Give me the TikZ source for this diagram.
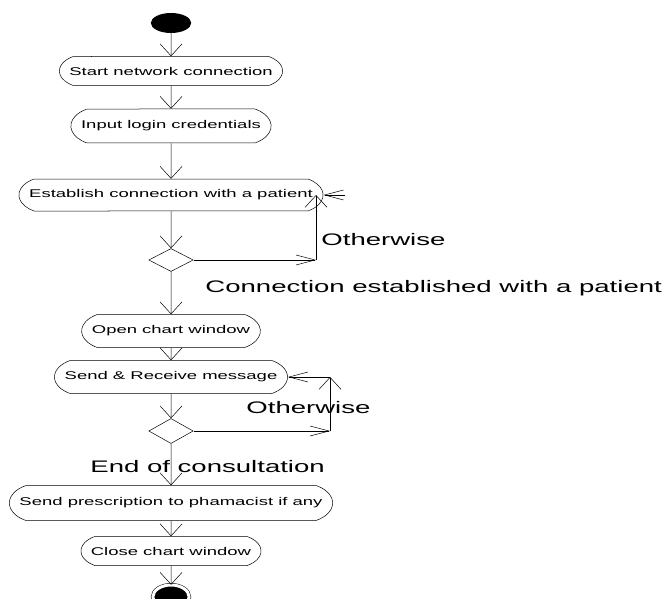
\documentclass[tikz,border=0pt]{standalone}
\usepackage{fontspec}
\setmainfont{Liberation Sans}
\usetikzlibrary{positioning, arrows.meta, shapes.geometric, shapes.misc}

\tikzset{
	activity/.style={draw, rounded rectangle, rounded rectangle arc length=120,
		minimum height=32pt, inner xsep=5.5pt, inner ysep=0pt,
		font=\fontsize{11.2}{13}\selectfont},
	decision/.style={draw, diamond, minimum width=27pt, minimum height=23pt, inner sep=0pt},
	guard/.style={anchor=base west, inner sep=0pt, font=\fontsize{16.7}{19}\selectfont},
	flow/.style={-{Straight Barb[length=12pt, width=22pt]}},
	back/.style={-{Straight Barb[length=19pt, width=10pt]}},
}

\begin{document}
\begin{tikzpicture}[x=0.60606pt, y=-1pt, xscale=1.65,
		every node/.append style={transform shape}, line width=0.5pt]
		\useasboundingbox (0,0) rectangle (664,599);

		\node[fill, ellipse, minimum width=24.5pt, minimum height=20pt, inner sep=0pt]
			(start) at (171,23) {};
		\node[activity, minimum height=29pt] (connect) at (171,71) {Start network connection};
		\node[activity, minimum height=34pt] (login) at (171,126) {Input login credentials};
		\node[activity] (establish) at (171,195) {Establish connection with a patient};
		\node[decision] (check1) at (171,260) {};
		\node[activity, minimum height=33pt] (chart) at (171,331) {Open chart window};
		\node[activity, minimum height=33pt] (message) at (171,377) {Send \& Receive message};
		\node[decision, minimum height=25pt] (check2) at (171,431) {};
		\node[activity, minimum height=35pt] (prescribe) at (171,503)
			{Send prescription to phamacist if any};
		\node[activity, minimum height=29pt] (close) at (171,551) {Close chart window};
		\node[ellipse, fill, draw, double=white, double distance=3pt,
			minimum width=22pt, minimum height=24pt, inner sep=0pt]
			(stop) at (171,597) {};

		\coordinate (turn1) at (316,260);
		\coordinate (up1) at (316,195);
		\coordinate (ret1) at (345,195);
		\coordinate (turn2) at (330,431);
		\coordinate (up2) at (330,377);

		\draw[flow] (start) -- (connect);
		\draw[flow] (connect) -- (login);
		\draw[flow] (login) -- (establish);
		\draw[flow] (establish) -- (check1);
		\draw[flow] (check1) -- (chart);
		\draw[flow] (chart) -- (message);
		\draw[flow] (message) -- (check2);
		\draw[flow] (check2) -- (prescribe);
		\draw[flow] (prescribe) -- (close);
		\draw[flow] (close) -- (stop);

		\draw[back] (check1) -- (turn1);
		\draw[flow] (turn1) -- (up1);
		\draw[back] (ret1) -- (establish.east);
		\draw[back] (check2) -- (turn2);
		\draw[flow] (turn2) -- (up2);
		\draw[back] (up2) -- (message.east);

		\node[guard] (otherwise1) at (321,245) {Otherwise};
		\node[guard] (established) at (205,292) {Connection established with a patient};
		\node[guard] (otherwise2) at (246,413) {Otherwise};
		\node[guard] (finished) at (90,472) {End of consultation};
	\end{tikzpicture}
\end{document}
